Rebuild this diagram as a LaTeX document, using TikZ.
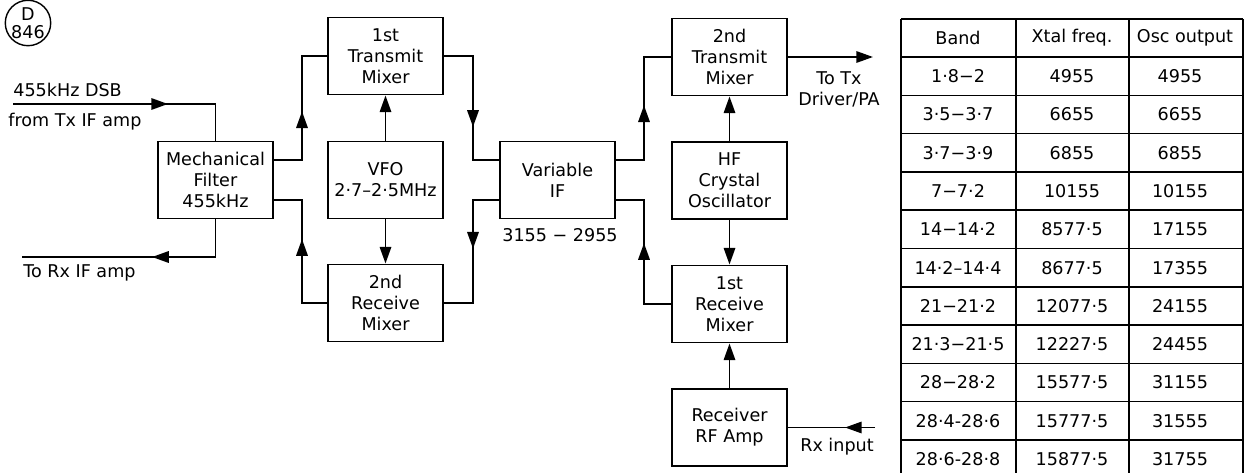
\documentclass[tikz,border=0pt]{standalone}
\usepackage{fontspec}
\setmainfont{DejaVu Sans}
\usetikzlibrary{arrows.meta,calc,positioning,decorations.markings}

\begin{document}
\begin{tikzpicture}[x=0.02cm,y=-0.02cm,
    font=\fontsize{10}{12}\selectfont,
    box/.style={draw,line width=1.1pt,minimum width=2.3cm,minimum height=1.54cm,align=center,inner sep=1pt},
    link/.style={line width=1.1pt},
    tip/.style={link,-{Triangle[length=9.5pt,width=6.5pt]}},
    midtip/.style={link,postaction={decorate},decoration={markings,
        mark=at position #1 with {\arrow{Triangle[length=9.5pt,width=6.5pt]}}}},
    grid/.style={line width=0.8pt},
    lbl/.style={anchor=west,inner sep=0pt}]
                \useasboundingbox (0,0) rectangle (1244,473);
                %Blocks
                \node[box] (mf) at (215.5,180) {Mechanical\\Filter\\455kHz};
                \node[box] (tx1) at (385.5,56) {1st\\Transmit\\Mixer};
                \node[box] (vfo) at (385.5,180) {VFO\\2·7–2·5MHz};
                \node[box] (rx2) at (385.5,303) {2nd\\Receive\\Mixer};
                \node[box] (vif) at (557.5,180) {Variable\\IF};
                \node[box] (tx2) at (729.5,57) {2nd\\Transmit\\Mixer};
                \node[box] (hfo) at (729.5,180.5) {HF\\Crystal\\Oscillator};
                \node[box] (rx1) at (729.5,304) {1st\\Receive\\Mixer};
                \node[box] (rfa) at (729.5,427.5) {Receiver\\RF Amp};
                \node[draw,circle,line width=0.8pt,minimum size=0.86cm,inner sep=0pt,align=center,
                      font=\fontsize{10}{10}\selectfont] (ref) at (28,23) {D\\846};
                %Ports and buses
                \coordinate (mfa) at ($(mf.north east)!.25!(mf.south east)$);
                \coordinate (mfb) at ($(mf.north east)!.75!(mf.south east)$);
                \coordinate (vifa) at ($(vif.north west)!.25!(vif.south west)$);
                \coordinate (vifb) at ($(vif.north west)!.75!(vif.south west)$);
                \coordinate (vifc) at ($(vif.north east)!.25!(vif.south east)$);
                \coordinate (vifd) at ($(vif.north east)!.75!(vif.south east)$);
                \coordinate (busa) at (302,0);
                \coordinate (busb) at (473,0);
                \coordinate (busc) at (644,0);
                \coordinate (dsb) at (13,104);
                \coordinate (rxif) at (22,257);
                \coordinate (txout) at (873,57);
                \coordinate (rxin) at (875,427.5);
                %Links
                \draw[midtip=3.1cm] (dsb) -| (mf.north);
                \draw[midtip=2.02cm] (mf.south) |- (rxif);
                \draw[midtip=1.54cm] (mfa) -| (busa |- tx1.west) -- (tx1.west);
                \draw[midtip=1.78cm] (rx2.west) -| (busa |- mfb) -- (mfb);
                \draw[midtip=2cm] (tx1.east) -| (busb |- vifa) -- (vifa);
                \draw[midtip=1.5cm] (vifb) -| (busb |- rx2.east) -- (rx2.east);
                \draw[midtip=1.66cm] (vifc) -| (busc |- tx2.west) -- (tx2.west);
                \draw[midtip=1.76cm] (rx1.west) -| (busc |- vifd) -- (vifd);
                \draw[midtip=0.6cm] (rxin) -- (rfa.east);
                \draw[tip] (vfo.north) -- (tx1.south);
                \draw[tip] (vfo.south) -- (rx2.north);
                \draw[tip] (hfo.north) -- (tx2.south);
                \draw[tip] (hfo.south) -- (rx1.north);
                \draw[tip] (rfa.north) -- (rx1.south);
                \draw[tip] (tx2.east) -- (txout);
                %Labels
                \node[lbl] (dsblbl) at (13,90) {455kHz DSB};
                \node[lbl] (fromlbl) at (8,122) {from Tx IF amp};
                \node[lbl] (rxiflbl) at (23,273) {To Rx IF amp};
                \node (viflbl) at (560,235) {3155 − 2955};
                \node[align=center] (txlbl) at (839,89) {To Tx\\Driver/PA};
                \node (rxinlbl) at (837,447) {Rx input};
                %Table
                \draw[grid] (901,19) -- (1243,19);
                \draw[line width=1.3pt] (901,57) -- (1243,57);
                \foreach \i in {1,...,10}
                    \draw[grid] (901,{57+38.3*\i}) -- (1243,{57+38.3*\i});
                \foreach \x in {901,1016,1129,1243}
                    \draw[grid] (\x,19) -- (\x,473);
                \node (hband) at (958,38) {Band};
                \node (hxtal) at (1072,38) {Xtal freq.};
                \node (hosc) at (1185,38) {Osc output};
                \foreach \band/\xtal/\osc [count=\i] in {1·8−2/4955/4955, 3·5−3·7/6655/6655,
                        3·7−3·9/6855/6855, 7−7·2/10155/10155, 14−14·2/8577·5/17155,
                        14·2–14·4/8677·5/17355, 21−21·2/12077·5/24155, 21·3−21·5/12227·5/24455,
                        28−28·2/15577·5/31155, 28·4-28·6/15777·5/31555, 28·6-28·8/15877·5/31755}{
                    \node (b\i) at (958,{57+38.3*(\i-0.5)}) {\band};
                    \node (x\i) at (1072,{57+38.3*(\i-0.5)}) {\xtal};
                    \node (o\i) at (1180,{57+38.3*(\i-0.5)}) {\osc};
                }
\end{tikzpicture}
\end{document}
